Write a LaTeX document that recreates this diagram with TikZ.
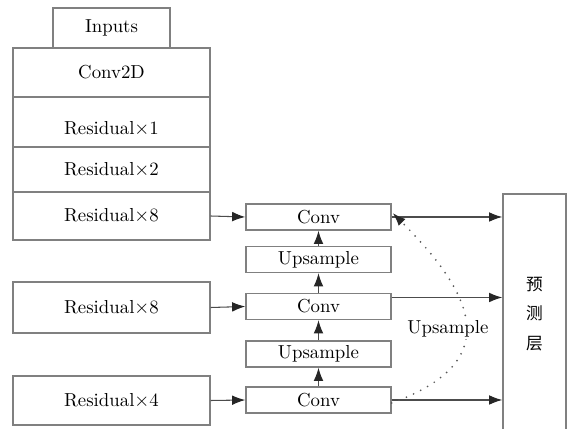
\documentclass[tikz,border=0pt]{standalone}
\usepackage{fontspec}
\usepackage{tikz}
\usetikzlibrary{arrows.meta}
\newfontfamily\cjk{Noto Sans CJK SC}

\def\u{0.02cm}

\begin{document}
\begin{tikzpicture}[x=\u,y=-\u,
  font=\fontsize{10.7}{12}\selectfont,
  box/.style={draw=black!50,line width=0.8pt,inner sep=0pt,minimum width={197*\u}},
  mid/.style={draw=black!50,line width=0.8pt,inner sep=0pt,minimum width={145*\u},minimum height={26*\u}},
  link/.style={draw=black!70,line width=0.6pt,-{Latex[length=7.5pt,width=5.5pt,black!85]}}]
\useasboundingbox (0,0) rectangle (576,429);
% backbone
\node [box,minimum width={117*\u},minimum height={40*\u}] (inputs) at (111.5,28) {Inputs};
\node [box,minimum height={49*\u}] (conv2d) at (111.5,72.5) {Conv2D};
\node [box,minimum height={50*\u}] (res1) at (111.5,122) {};
\node at (111.5,129) {Residual$\times$1};
\node [box,minimum height={45*\u}] (res2) at (111.5,169.5) {Residual$\times$2};
\node [box,minimum height={48*\u}] (res8a) at (111.5,216) {Residual$\times$8};
\node [box,minimum height={51*\u}] (res8b) at (111.5,307.5) {Residual$\times$8};
\node [box,minimum height={49*\u}] (res4) at (111.5,400.5) {Residual$\times$4};
% middle column
\node [mid] (conv1) at (318.5,217) {Conv};
\node [mid] (up1) at (318.5,259.5) {Upsample};
\node [mid] (conv2) at (318.5,306.5) {Conv};
\node [mid] (up2) at (318.5,354) {Upsample};
\node [mid] (conv3) at (318.5,400) {Conv};
% prediction
\node [draw=black!50,line width=0.8pt,minimum width={63*\u},minimum height={240*\u},
  font=\cjk\fontsize{9.5}{17}\selectfont,align=center] (pred) at (534.5,314) {预\\测\\层};
\coordinate (conv2out) at ([yshift={9*\u}]conv2.east);

\draw [link] (res8a.east) -- (conv1.west);
\draw [link] (res8b.east) -- (conv2.west);
\draw [link] (res4.east) -- (conv3.west);
\draw [link] (up1.north) -- (conv1.south);
\draw [link] (conv2.north) -- (up1.south);
\draw [link] (up2.north) -- (conv2.south);
\draw [link] (conv3.north) -- (up2.south);

\draw [link] (conv1.east) -- (pred.west |- conv1.east);
\draw [link] (conv2out) -- (pred.west |- conv2out);
\draw [link] (conv3.east) -- (pred.west |- conv3.east);

% dotted path back up
\draw [black!65,line width=1.1pt,line cap=round,dash pattern=on 0pt off 4.5pt,
  -{Latex[length=7.5pt,width=5.5pt,black!85]}]
  ([yshift={-3*\u}]conv3.east) to[out=20,in=-45,looseness=1.6] ([xshift={1*\u},yshift={4*\u}]conv1.east);
\node [fill=white,inner sep=1pt] (uplabel) at (448,329) {Upsample};
\end{tikzpicture}
\end{document}
